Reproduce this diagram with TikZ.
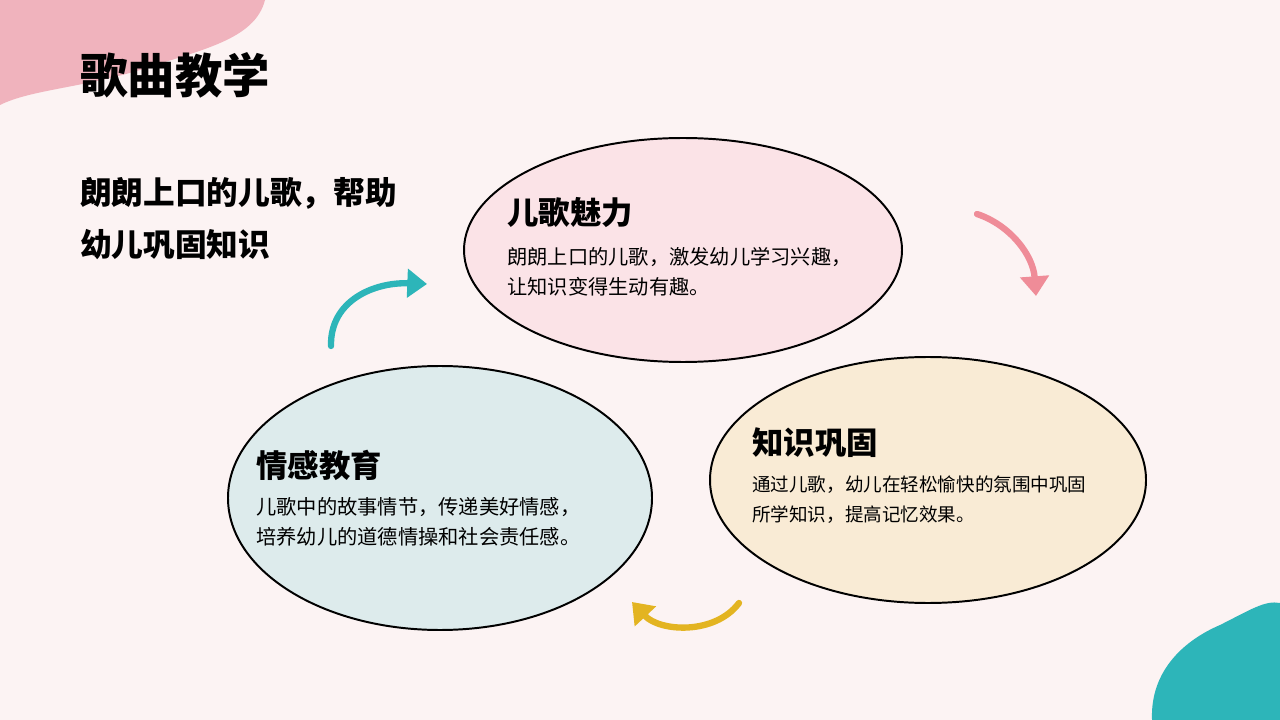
\documentclass[tikz,border=0pt]{standalone}
\usepackage{fontspec}
\setmainfont{Noto Sans CJK SC}
\usetikzlibrary{positioning}
\usetikzlibrary{arrows.meta}
\definecolor{bgpink}{HTML}{FCF3F3}
\definecolor{blobpink}{HTML}{F0B3BD}
\definecolor{blobteal}{HTML}{2DB5B9}
\definecolor{fillrose}{HTML}{FBE3E7}
\definecolor{fillsand}{HTML}{F9EBD5}
\definecolor{fillmist}{HTML}{DDEBEC}
\definecolor{arrpink}{HTML}{EF8C98}
\definecolor{arrteal}{HTML}{2DB5B9}
\definecolor{arryellow}{HTML}{E3B421}
\tikzset{
  bubble/.style={draw=black, line width=1.4pt},
  cycarrow/.style={line width=4.5pt, line cap=round, -{Triangle[length=14pt,width=20pt]}},
  headtext/.style={anchor=west, inner sep=0pt, font=\bfseries\fontsize{22.3}{26}\selectfont},
  bodytext/.style={anchor=north west, inner sep=0pt, align=left, font=\fontsize{14.4}{21.3}\selectfont},
}
\begin{document}
\begin{tikzpicture}[x=0.025cm, y=-0.025cm]
	% ------------------------------------------------
	% Background and corner blobs
	\useasboundingbox (0,0) rectangle (1280,720);
	\fill[bgpink] (0,0) rectangle (1280,720);
	\fill[blobpink] (0,0) -- (265,0) .. controls (255,40) and (200,50) .. (140,70)
		.. controls (80,88) and (30,90) .. (0,105) -- cycle;
	\fill[blobteal] (1280,720) -- (1152,720) .. controls (1150,670) and (1185,640) .. (1220,625)
		.. controls (1250,610) and (1265,600) .. (1280,603) -- cycle;

	% ------------------------------------------------
	% Titles
	\node[anchor=west, inner sep=0pt, font=\bfseries\fontsize{33.7}{38}\selectfont] (Title) at (80,75) {歌曲教学};
	\node[anchor=north west, inner sep=0pt, align=left, font=\bfseries\fontsize{22.5}{37}\selectfont] (Lead) at (80,177)
		{朗朗上口的儿歌，帮助\\幼儿巩固知识};

	% ----------------
	% Bubbles
	\draw[bubble, fill=fillrose] (683,250) ellipse [x radius=219, y radius=112];
	\draw[bubble, fill=fillsand] (928,480) ellipse [x radius=218, y radius=123];
	\draw[bubble, fill=fillmist] (440,498) ellipse [x radius=212, y radius=132];

	\node[headtext] (CharmHead) at (507,213) {儿歌魅力};
	\node[bodytext] (CharmBody) at (507,247) {朗朗上口的儿歌，激发幼儿学习兴趣，\\让知识变得生动有趣。};
	\node[headtext] (RecallHead) at (752,443) {知识巩固};
	\node[bodytext, font=\fontsize{13.2}{21.3}\selectfont] (RecallBody) at (752,476) {通过儿歌，幼儿在轻松愉快的氛围中巩固\\所学知识，提高记忆效果。};
	\node[headtext] (MoralHead) at (256,465) {情感教育};
	\node[bodytext] (MoralBody) at (256,497) {儿歌中的故事情节，传递美好情感，\\培养幼儿的道德情操和社会责任感。};

	% ----------------
	% Cycle arrows
	\coordinate (PinkA) at (977,214);
	\coordinate (PinkB) at (1036,296);
	\coordinate (TealA) at (331,346);
	\coordinate (TealB) at (427,284);
	\coordinate (GoldA) at (739,603);
	\coordinate (GoldB) at (632,602);
	\draw[cycarrow, arrpink] (PinkA) .. controls (1010,225) and (1033,255) .. (PinkB);
	\draw[cycarrow, arrteal] (TealA) .. controls (330,300) and (375,282) .. (TealB);
	\draw[cycarrow, arryellow] (GoldA) .. controls (715,635) and (660,632) .. (GoldB);
\end{tikzpicture}
\end{document}
